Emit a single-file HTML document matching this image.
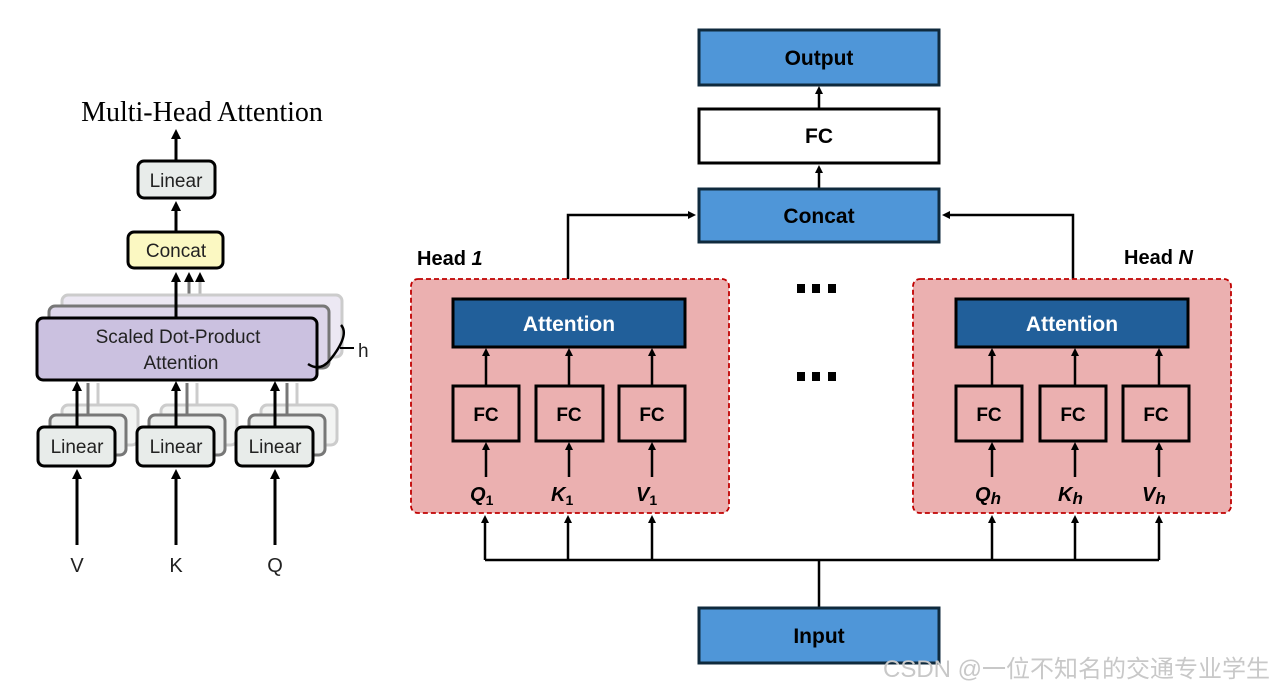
<!DOCTYPE html>
<html><head><meta charset="utf-8"><style>
html,body{margin:0;padding:0;background:#fff;width:1277px;height:690px;overflow:hidden}
svg{display:block}
text{font-family:"Liberation Sans","Noto Sans CJK SC",sans-serif}
</style></head><body>
<svg width="1277" height="690" viewBox="0 0 1277 690" xmlns="http://www.w3.org/2000/svg">
<defs>
<marker id="a" markerWidth="8" markerHeight="8" refX="4" refY="4" orient="auto" markerUnits="userSpaceOnUse"><path d="M0,0 L8,4 L0,8 z" fill="#000"/></marker>
<marker id="b" markerWidth="10" markerHeight="10" refX="5" refY="5" orient="auto" markerUnits="userSpaceOnUse"><path d="M0,0 L10,5 L0,10 z" fill="#000"/></marker>
</defs>

<!-- LEFT DIAGRAM -->
<text x="202" y="121" font-size="28" text-anchor="middle" style="font-family:'Liberation Serif',serif">Multi-Head Attention</text>
<line x1="176" y1="160" x2="176" y2="134" stroke="#000" stroke-width="3" marker-end="url(#b)"/>
<rect x="138" y="161" width="77" height="37" rx="6" fill="#e8ecea" stroke="#000" stroke-width="3"/>
<text x="176" y="187" font-size="19" text-anchor="middle" fill="#222">Linear</text>
<line x1="176" y1="231" x2="176" y2="206" stroke="#000" stroke-width="3" marker-end="url(#b)"/>
<rect x="128" y="232" width="95" height="36" rx="6" fill="#fbf8c2" stroke="#000" stroke-width="3"/>
<text x="176" y="257" font-size="19" text-anchor="middle" fill="#222">Concat</text>
<line x1="200" y1="300" x2="200" y2="277" stroke="#bbb" stroke-width="3" marker-end="url(#b)"/>
<line x1="189" y1="306" x2="189" y2="277" stroke="#777" stroke-width="3" marker-end="url(#b)"/>
<rect x="62" y="295" width="280" height="62" rx="6" fill="#ece8f3" stroke="#ccc" stroke-width="3"/>
<rect x="49" y="306" width="280" height="62" rx="6" fill="#ddd6ea" stroke="#777" stroke-width="3"/>
<line x1="176" y1="318" x2="176" y2="277" stroke="#000" stroke-width="3" marker-end="url(#b)"/>
<rect x="37" y="318" width="280" height="62" rx="6" fill="#cbc1e0" stroke="#000" stroke-width="3"/>
<text x="178" y="343" font-size="19" text-anchor="middle" fill="#222">Scaled Dot-Product</text>
<text x="181" y="369" font-size="19" text-anchor="middle" fill="#222">Attention</text>
<path d="M341,325 Q350,335 330,360 Q320,372 308,364" fill="none" stroke="#000" stroke-width="2.5"/>
<line x1="340" y1="348" x2="354" y2="348" stroke="#000" stroke-width="2"/>
<text x="358" y="357" font-size="19" fill="#222">h</text>
<g>
<rect x="62" y="405" width="76" height="40" rx="6" fill="#f3f4f3" stroke="#ccc" stroke-width="3"/>
<rect x="50" y="415" width="76" height="40" rx="6" fill="#eceeed" stroke="#777" stroke-width="3"/>
<rect x="161" y="405" width="76" height="40" rx="6" fill="#f3f4f3" stroke="#ccc" stroke-width="3"/>
<rect x="149" y="415" width="76" height="40" rx="6" fill="#eceeed" stroke="#777" stroke-width="3"/>
<rect x="261" y="405" width="76" height="40" rx="6" fill="#f3f4f3" stroke="#ccc" stroke-width="3"/>
<rect x="249" y="415" width="76" height="40" rx="6" fill="#eceeed" stroke="#777" stroke-width="3"/>
<line x1="98" y1="383" x2="98" y2="405" stroke="#ccc" stroke-width="3"/>
<line x1="88" y1="383" x2="88" y2="415" stroke="#777" stroke-width="3"/>
<line x1="197" y1="383" x2="197" y2="405" stroke="#ccc" stroke-width="3"/>
<line x1="187" y1="383" x2="187" y2="415" stroke="#777" stroke-width="3"/>
<line x1="297" y1="383" x2="297" y2="405" stroke="#ccc" stroke-width="3"/>
<line x1="287" y1="383" x2="287" y2="415" stroke="#777" stroke-width="3"/>
<line x1="77" y1="426" x2="77" y2="386" stroke="#000" stroke-width="3" marker-end="url(#b)"/>
<line x1="176" y1="426" x2="176" y2="386" stroke="#000" stroke-width="3" marker-end="url(#b)"/>
<line x1="275" y1="426" x2="275" y2="386" stroke="#000" stroke-width="3" marker-end="url(#b)"/>
<rect x="38" y="427" width="77" height="39" rx="6" fill="#e8ecea" stroke="#000" stroke-width="3"/>
<rect x="137" y="427" width="77" height="39" rx="6" fill="#e8ecea" stroke="#000" stroke-width="3"/>
<rect x="236" y="427" width="77" height="39" rx="6" fill="#e8ecea" stroke="#000" stroke-width="3"/>
<text x="77" y="453" font-size="19" text-anchor="middle" fill="#222">Linear</text>
<text x="176" y="453" font-size="19" text-anchor="middle" fill="#222">Linear</text>
<text x="275" y="453" font-size="19" text-anchor="middle" fill="#222">Linear</text>
<line x1="77" y1="545" x2="77" y2="474" stroke="#000" stroke-width="3" marker-end="url(#b)"/>
<line x1="176" y1="545" x2="176" y2="474" stroke="#000" stroke-width="3" marker-end="url(#b)"/>
<line x1="275" y1="545" x2="275" y2="474" stroke="#000" stroke-width="3" marker-end="url(#b)"/>
<text x="77" y="572" font-size="20" text-anchor="middle" fill="#222">V</text>
<text x="176" y="572" font-size="20" text-anchor="middle" fill="#222">K</text>
<text x="275" y="572" font-size="20" text-anchor="middle" fill="#222">Q</text>
</g>

<!-- RIGHT DIAGRAM -->
<rect x="699" y="30" width="240" height="55" fill="#4f96d8" stroke="#0f2a3d" stroke-width="3"/>
<text x="819" y="65" font-size="21" font-weight="bold" text-anchor="middle">Output</text>
<line x1="819" y1="108" x2="819" y2="90" stroke="#000" stroke-width="2.5" marker-end="url(#a)"/>
<rect x="699" y="109" width="240" height="54" fill="#fff" stroke="#000" stroke-width="3"/>
<text x="819" y="143" font-size="21" font-weight="bold" text-anchor="middle">FC</text>
<line x1="819" y1="188" x2="819" y2="169" stroke="#000" stroke-width="2.5" marker-end="url(#a)"/>
<rect x="699" y="189" width="240" height="53" fill="#4f96d8" stroke="#0f2a3d" stroke-width="3"/>
<text x="819" y="223" font-size="21" font-weight="bold" text-anchor="middle">Concat</text>
<polyline points="568,298 568,215 692,215" fill="none" stroke="#000" stroke-width="2.5" marker-end="url(#a)"/>
<polyline points="1073,298 1073,215 946,215" fill="none" stroke="#000" stroke-width="2.5" marker-end="url(#a)"/>

<text x="417" y="265" font-size="20" font-weight="bold">Head <tspan font-style="italic">1</tspan></text>
<text x="1124" y="264" font-size="20" font-weight="bold">Head <tspan font-style="italic">N</tspan></text>

<g fill="#000">
<rect x="797" y="284" width="8" height="9"/><rect x="812" y="284" width="8" height="9"/><rect x="828" y="284" width="8" height="9"/>
<rect x="797" y="372" width="8" height="9"/><rect x="812" y="372" width="8" height="9"/><rect x="828" y="372" width="8" height="9"/>
</g>

<rect x="411" y="279" width="318" height="234" rx="7" fill="#ebb0b0" stroke="#c00000" stroke-width="1.8" stroke-dasharray="5,3"/>
<rect x="453" y="299" width="232" height="48" fill="#215f9a" stroke="#000" stroke-width="3"/>
<text x="569" y="331" font-size="21" font-weight="bold" fill="#fff" text-anchor="middle">Attention</text>
<g stroke="#000" stroke-width="3" fill="none">
<rect x="453" y="386" width="66" height="55"/><rect x="536" y="386" width="67" height="55"/><rect x="619" y="386" width="66" height="55"/>
</g>
<text x="486" y="421" font-size="19" font-weight="bold" text-anchor="middle">FC</text>
<text x="569" y="421" font-size="19" font-weight="bold" text-anchor="middle">FC</text>
<text x="652" y="421" font-size="19" font-weight="bold" text-anchor="middle">FC</text>
<g stroke="#000" stroke-width="2.5" marker-end="url(#a)">
<line x1="486" y1="385" x2="486" y2="352"/><line x1="569" y1="385" x2="569" y2="352"/><line x1="652" y1="385" x2="652" y2="352"/>
<line x1="486" y1="477" x2="486" y2="446"/><line x1="569" y1="477" x2="569" y2="446"/><line x1="652" y1="477" x2="652" y2="446"/>
</g>
<g font-weight="bold" font-style="italic" font-size="20" style="font-family:'Liberation Serif',serif">
<text x="470" y="501">Q<tspan font-size="14" dy="4" font-style="normal">1</tspan></text>
<text x="551" y="501">K<tspan font-size="14" dy="4" font-style="normal">1</tspan></text>
<text x="636" y="501">V<tspan font-size="14" dy="4" font-style="normal">1</tspan></text>
</g>

<rect x="913" y="279" width="318" height="234" rx="7" fill="#ebb0b0" stroke="#c00000" stroke-width="1.8" stroke-dasharray="5,3"/>
<rect x="956" y="299" width="232" height="48" fill="#215f9a" stroke="#000" stroke-width="3"/>
<text x="1072" y="331" font-size="21" font-weight="bold" fill="#fff" text-anchor="middle">Attention</text>
<g stroke="#000" stroke-width="3" fill="none">
<rect x="956" y="386" width="66" height="55"/><rect x="1040" y="386" width="66" height="55"/><rect x="1123" y="386" width="66" height="55"/>
</g>
<text x="989" y="421" font-size="19" font-weight="bold" text-anchor="middle">FC</text>
<text x="1073" y="421" font-size="19" font-weight="bold" text-anchor="middle">FC</text>
<text x="1156" y="421" font-size="19" font-weight="bold" text-anchor="middle">FC</text>
<g stroke="#000" stroke-width="2.5" marker-end="url(#a)">
<line x1="992" y1="385" x2="992" y2="352"/><line x1="1075" y1="385" x2="1075" y2="352"/><line x1="1159" y1="385" x2="1159" y2="352"/>
<line x1="992" y1="477" x2="992" y2="446"/><line x1="1075" y1="477" x2="1075" y2="446"/><line x1="1159" y1="477" x2="1159" y2="446"/>
</g>
<g font-weight="bold" font-style="italic" font-size="20" style="font-family:'Liberation Serif',serif">
<text x="975" y="501">Q<tspan font-size="17" dy="3">h</tspan></text>
<text x="1058" y="501">K<tspan font-size="17" dy="3">h</tspan></text>
<text x="1142" y="501">V<tspan font-size="17" dy="3">h</tspan></text>
</g>

<g stroke="#000" stroke-width="2.5" fill="none">
<polyline points="485,560 1159,560"/>
<line x1="819" y1="560" x2="819" y2="607"/>
</g>
<g stroke="#000" stroke-width="2.5" marker-end="url(#a)">
<line x1="485" y1="560" x2="485" y2="519"/><line x1="568" y1="560" x2="568" y2="519"/><line x1="652" y1="560" x2="652" y2="519"/>
<line x1="992" y1="560" x2="992" y2="519"/><line x1="1075" y1="560" x2="1075" y2="519"/><line x1="1159" y1="560" x2="1159" y2="519"/>
</g>
<rect x="699" y="608" width="240" height="55" fill="#4f96d8" stroke="#0f2a3d" stroke-width="3"/>
<text x="819" y="643" font-size="21" font-weight="bold" text-anchor="middle">Input</text>

<text x="883" y="677" font-size="24" fill="#c8c8c8">CSDN @一位不知名的交通专业学生</text>
</svg>
</body></html>
